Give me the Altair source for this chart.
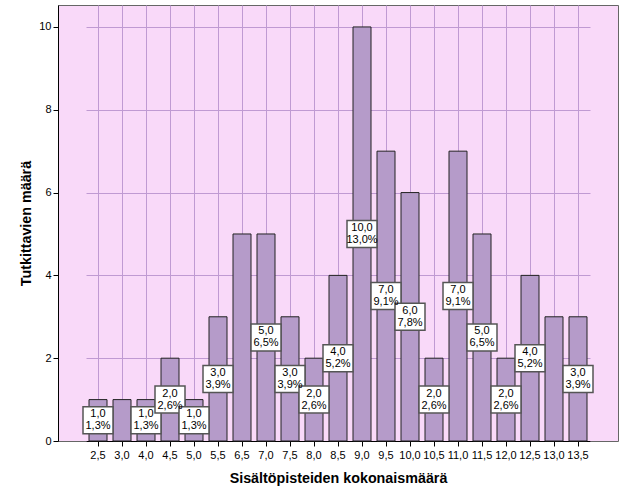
import altair as alt
import pandas as pd

categories = ["2,5", "3,0", "4,0", "4,5", "5,0", "5,5", "6,5", "7,0", "7,5", "8,0", "8,5",
              "9,0", "9,5", "10,0", "10,5", "11,0", "11,5", "12,0", "12,5", "13,0", "13,5"]
counts = [1, 1, 1, 2, 1, 3, 5, 5, 3, 2, 4, 10, 7, 6, 2, 7, 5, 2, 4, 3, 3]
hidden_labels = ["3,0", "6,5", "13,0"]

total = sum(counts)
df = pd.DataFrame({"cat": categories, "n": counts})
df["half"] = df["n"] / 2
df["lab"] = [
    f"{n:.1f}".replace(".", ",") + "\n" + f"{100 * n / total:.1f}".replace(".", ",") + "%"
    for n in counts
]
df["show"] = [c not in hidden_labels for c in categories]

FONT = "Liberation Sans"
GRID = "#C09AD3"

xscale = alt.Scale(paddingInner=0.25, paddingOuter=0.125, range=[28, 532])
xenc = alt.X(
    "cat:N", sort=categories, scale=xscale,
    axis=alt.Axis(title="Sisältöpisteiden kokonaismäärä", labelAngle=0, grid=True,
                  gridColor=GRID, gridOpacity=1, domainColor="black", tickColor="black",
                  tickSize=5, labelFont=FONT, labelFontSize=11, labelColor="black",
                  labelPadding=3, titleFont=FONT, titleFontSize=14.3, titleFontWeight="bold",
                  titleColor="black", titlePadding=11),
)
yscale = alt.Scale(domain=[0, 10.53], nice=False)

bars = alt.Chart(df).mark_bar(color="#B59BC9", stroke="#222222", strokeWidth=1).encode(
    x=xenc,
    y=alt.Y("n:Q", scale=yscale,
            axis=alt.Axis(title="Tutkittavien määrä", values=[0, 2, 4, 6, 8, 10],
                          grid=True, gridColor=GRID, gridOpacity=1,
                          domainColor="black", tickColor="black", tickSize=5,
                          labelFont=FONT, labelFontSize=11, labelColor="black",
                          labelPadding=2, titleFont=FONT, titleFontSize=14.3,
                          titleFontWeight="bold", titleColor="black", titlePadding=5)),
)

lab_df = alt.Chart(df).transform_filter("datum.show")

boxes = lab_df.mark_point(
    shape="M-1,-0.9L1,-0.9L1,0.9L-1,0.9Z", size=900, filled=False, fill="white",
    fillOpacity=1, stroke="#555555", strokeWidth=1.5, opacity=1,
).encode(x=alt.X("cat:N", sort=categories, scale=xscale), y=alt.Y("half:Q", scale=yscale))

texts = lab_df.mark_text(
    font=FONT, fontSize=11, color="black", lineBreak="\n", lineHeight=12,
    baseline="middle", align="center", dy=-6,
).encode(x=alt.X("cat:N", sort=categories, scale=xscale), y=alt.Y("half:Q", scale=yscale),
         text="lab:N")

chart = alt.layer(bars, boxes, texts).properties(
    width=560, height=436,
    autosize=alt.AutoSizeParams(type="none"),
    padding={"left": 58, "top": 5, "right": 8, "bottom": 60},
).configure(background="white").configure_view(fill="#F9D9F9", stroke="#666666", strokeWidth=1)

chart.save("out.html", embed_options={"renderer": "svg", "actions": False})
